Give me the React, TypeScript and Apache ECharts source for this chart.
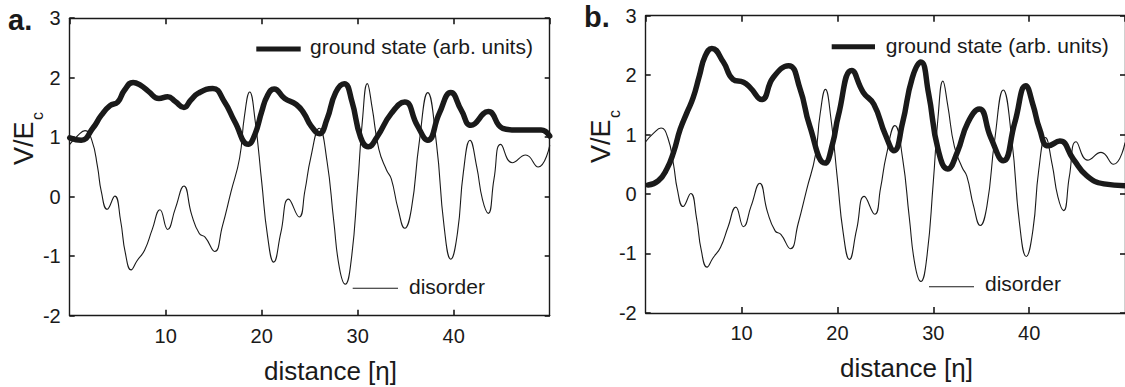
import React, { useEffect, useRef } from "react";
import * as echarts from "echarts";

// Disorder potential V/E_c along the wire (same realisation in both panels)
const disorderX = [0, 0.8, 1.6, 2.3, 2.9, 3.3, 3.9, 4.7, 5.3, 5.8, 6.4, 7.0, 7.8, 8.6, 9.4, 10.2, 11.0, 11.9, 12.7, 13.5, 14.1, 15.1, 15.9, 16.8, 17.7, 18.2, 18.75, 19.3, 20.0, 20.6, 21.25, 22.0, 22.8, 23.9, 24.5, 25.1, 26.0, 26.8, 27.5, 28.1, 28.7, 29.3, 30.0, 30.5, 31.0, 31.5, 32.2, 33.0, 33.5, 34.2, 34.9, 35.6, 36.4, 37.3, 38.2, 39.0, 39.7, 40.4, 41.0, 41.7, 42.4, 43.0, 43.6, 44.2, 44.9, 46.1, 47.5, 48.8, 50];
const disorderY = [0.88, 1.02, 1.11, 0.95, 0.5, 0.08, -0.21, 0.01, -0.4, -0.95, -1.23, -1.08, -0.9, -0.55, -0.22, -0.55, -0.2, 0.18, -0.3, -0.62, -0.68, -0.92, -0.5, 0.08, 0.65, 1.35, 1.76, 1.3, 0.25, -0.65, -1.1, -0.6, -0.04, -0.34, 0.1, 0.65, 1.15, 0.6, -0.4, -1.2, -1.47, -1.1, 0.2, 1.3, 1.9, 1.5, 0.8, 0.45, 0.3, -0.2, -0.53, -0.2, 0.9, 1.75, 0.9, -0.5, -1.05, -0.6, 0.4, 0.95, 0.5, -0.05, -0.28, 0.3, 0.88, 0.57, 0.7, 0.5, 0.86];

// Ground state, panel a
const groundAX = [0, 1.2, 2.4, 3.3, 4.2, 5.0, 5.7, 6.6, 7.4, 8.2, 9.3, 10.2, 11.0, 11.9, 12.6, 13.4, 14.9, 16.1, 17.2, 18.6, 19.3, 20.0, 20.6, 21.3, 22.4, 23.6, 24.4, 25.1, 26.0, 26.8, 27.7, 28.6, 29.4, 30.3, 31.1, 32.0, 33.5, 34.9, 36.2, 37.3, 38.5, 39.7, 40.8, 41.8, 43.6, 45.1, 46.5, 48.0, 49.1, 50];
const groundAY = [0.99, 0.95, 1.15, 1.37, 1.53, 1.59, 1.79, 1.92, 1.87, 1.77, 1.65, 1.68, 1.6, 1.5, 1.62, 1.74, 1.82, 1.6, 1.26, 0.88, 1.05, 1.43, 1.7, 1.81, 1.65, 1.55, 1.4, 1.2, 1.06, 1.3, 1.75, 1.9, 1.6, 1.0, 0.84, 1.0, 1.4, 1.59, 1.2, 0.95, 1.4, 1.75, 1.45, 1.2, 1.43, 1.15, 1.12, 1.12, 1.12, 1.02];

// Ground state, panel b
const groundBX = [0.25, 1.3, 2.2, 2.9, 3.6, 4.3, 4.95, 5.6, 6.2, 6.9, 8.1, 9.1, 10.2, 10.9, 12.1, 13.3, 14.9, 16.1, 17.1, 18.7, 19.5, 20.1, 21.5, 22.7, 23.8, 25.0, 25.9, 26.8, 27.8, 28.7, 29.5, 30.5, 31.5, 32.5, 33.6, 34.8, 36.0, 37.3, 38.5, 39.65, 40.4, 41.1, 42.0, 43.2, 44.6, 46.0, 47.8, 50];
const groundBY = [0.15, 0.22, 0.42, 0.7, 1.09, 1.37, 1.62, 1.99, 2.32, 2.45, 2.22, 1.93, 1.88, 1.79, 1.59, 1.96, 2.16, 1.77, 1.15, 0.52, 0.85, 1.32, 2.08, 1.71, 1.51, 1.0, 0.73, 1.2, 1.95, 2.22, 1.7, 0.75, 0.42, 0.7, 1.2, 1.43, 0.95, 0.56, 1.2, 1.82, 1.5, 1.09, 0.81, 0.89, 0.59, 0.31, 0.17, 0.14];

const X_MIN = 0;
const X_MAX = 50;
const X_STEP = 10;
const Y_MIN = -2;
const Y_MAX = 3;
const Y_STEP = 1;

const FONT = "'Liberation Sans', Arial, Helvetica, sans-serif";
const INK = "#1a1a1a";

const pairs = (xs: number[], ys: number[]) => xs.map((x, i) => [x, ys[i]]);

function axisLine() {
  return { show: true, onZero: false, lineStyle: { color: INK, width: 1.4 } };
}

function xAxes(gridIndex: number) {
  return [
    {
      type: "value",
      gridIndex,
      min: X_MIN,
      max: X_MAX,
      interval: X_STEP,
      position: "bottom",
      axisLine: axisLine(),
      axisTick: { show: true, inside: true, length: 6, lineStyle: { color: INK, width: 1.6 } },
      axisLabel: {
        show: true,
        showMinLabel: false,
        showMaxLabel: false,
        margin: 10,
        fontSize: 20,
        fontFamily: FONT,
        color: INK,
      },
      splitLine: { show: false },
    },
    {
      type: "value",
      gridIndex,
      min: X_MIN,
      max: X_MAX,
      interval: X_STEP,
      position: "top",
      axisLine: axisLine(),
      axisTick: { show: true, inside: true, length: 6, lineStyle: { color: INK, width: 1.6 } },
      axisLabel: { show: false },
      splitLine: { show: false },
    },
  ];
}

function yAxes(gridIndex: number) {
  return [
    {
      type: "value",
      gridIndex,
      min: Y_MIN,
      max: Y_MAX,
      interval: Y_STEP,
      position: "left",
      axisLine: axisLine(),
      axisTick: { show: true, inside: true, length: 5, lineStyle: { color: INK, width: 1.6 } },
      axisLabel: { show: true, margin: 9, fontSize: 20, fontFamily: FONT, color: INK },
      splitLine: { show: false },
    },
    {
      type: "value",
      gridIndex,
      min: Y_MIN,
      max: Y_MAX,
      interval: Y_STEP,
      position: "right",
      axisLine: axisLine(),
      axisTick: { show: true, inside: true, length: 5, lineStyle: { color: INK, width: 1.6 } },
      axisLabel: { show: false },
      splitLine: { show: false },
    },
  ];
}

function lineSeries(name: string, data: number[][], axisIndex: number, width: number, z: number) {
  return {
    name,
    type: "line",
    xAxisIndex: axisIndex,
    yAxisIndex: axisIndex,
    data,
    smooth: 0.5,
    showSymbol: false,
    symbol: "none",
    clip: true,
    z,
    lineStyle: { color: INK, width, cap: "round", join: "round" },
  };
}

type PanelText = {
  tag: string;
  tagX: number;
  tagY: number;
  vx: number;
  vy: number;
  cx: number;
  cy: number;
  xTitleX: number;
  xTitleY: number;
  gLine: [number, number, number];
  gTextX: number;
  gTextY: number;
  dLine: [number, number, number];
  dTextX: number;
  dTextY: number;
};

function panelGraphics(p: PanelText) {
  const txt = (x: number, y: number, text: string, fontSize: number, extra: any = {}) => ({
    type: "text",
    x,
    y,
    silent: true,
    style: {
      text,
      fontSize,
      fontFamily: FONT,
      fill: INK,
      align: "left",
      verticalAlign: "middle",
      ...extra,
    },
  });
  return [
    txt(p.tagX, p.tagY, p.tag, 29, { fontWeight: "bold" }),
    { ...txt(p.vx, p.vy, "V/E", 27), rotation: Math.PI / 2 },
    { ...txt(p.cx, p.cy, "c", 16), rotation: Math.PI / 2 },
    txt(p.xTitleX, p.xTitleY, "distance [η]", 26, { align: "center" }),
    {
      type: "line",
      silent: true,
      shape: { x1: p.gLine[0], y1: p.gLine[2], x2: p.gLine[1], y2: p.gLine[2] },
      style: { stroke: INK, lineWidth: 5 },
    },
    txt(p.gTextX, p.gTextY, "ground state (arb. units)", 21),
    {
      type: "line",
      silent: true,
      shape: { x1: p.dLine[0], y1: p.dLine[2], x2: p.dLine[1], y2: p.dLine[2] },
      style: { stroke: INK, lineWidth: 1.1 },
    },
    txt(p.dTextX, p.dTextY, "disorder", 21),
  ];
}

export default function App() {
  const ref = useRef<HTMLDivElement>(null);

  useEffect(() => {
    if (!ref.current) return;
    const chart = echarts.init(ref.current, null, { renderer: "svg" });

    const option = {
      animation: false,
      backgroundColor: "#ffffff",
      grid: [
        { left: 69.7, top: 18.2, width: 480, height: 297.5 },
        { left: 645.7, top: 15.7, width: 480, height: 297.2 },
      ],
      xAxis: [...xAxes(0), ...xAxes(1)],
      yAxis: [...yAxes(0), ...yAxes(1)],
      series: [
        lineSeries("disorder", pairs(disorderX, disorderY), 0, 1.1, 2),
        lineSeries("ground state (arb. units)", pairs(groundAX, groundAY), 0, 5.5, 3),
        lineSeries("disorder", pairs(disorderX, disorderY), 2, 1.1, 2),
        lineSeries("ground state (arb. units)", pairs(groundBX, groundBY), 2, 5.5, 3),
      ],
      graphic: [
        ...panelGraphics({
          tag: "a.",
          tagX: 8,
          tagY: 20,
          vx: 24,
          vy: 165,
          cx: 37.5,
          cy: 120,
          xTitleX: 330.5,
          xTitleY: 371,
          gLine: [256.3, 300.7, 49],
          gTextX: 310,
          gTextY: 46.6,
          dLine: [352.7, 398, 288.3],
          dTextX: 409,
          dTextY: 286,
        }),
        ...panelGraphics({
          tag: "b.",
          tagX: 584,
          tagY: 17,
          vx: 601,
          vy: 163,
          cx: 614.5,
          cy: 118,
          xTitleX: 906.5,
          xTitleY: 367.6,
          gLine: [831.7, 875, 46.7],
          gTextX: 885.7,
          gTextY: 45.3,
          dLine: [929, 974, 286.7],
          dTextX: 985,
          dTextY: 283.7,
        }),
      ],
    };

    chart.setOption(option as any);
    return () => chart.dispose();
  }, []);

  return (
    <div
      ref={ref}
      style={{ position: "fixed", left: 0, top: 0, width: 1125, height: 387, background: "#fff" }}
    />
  );
}
